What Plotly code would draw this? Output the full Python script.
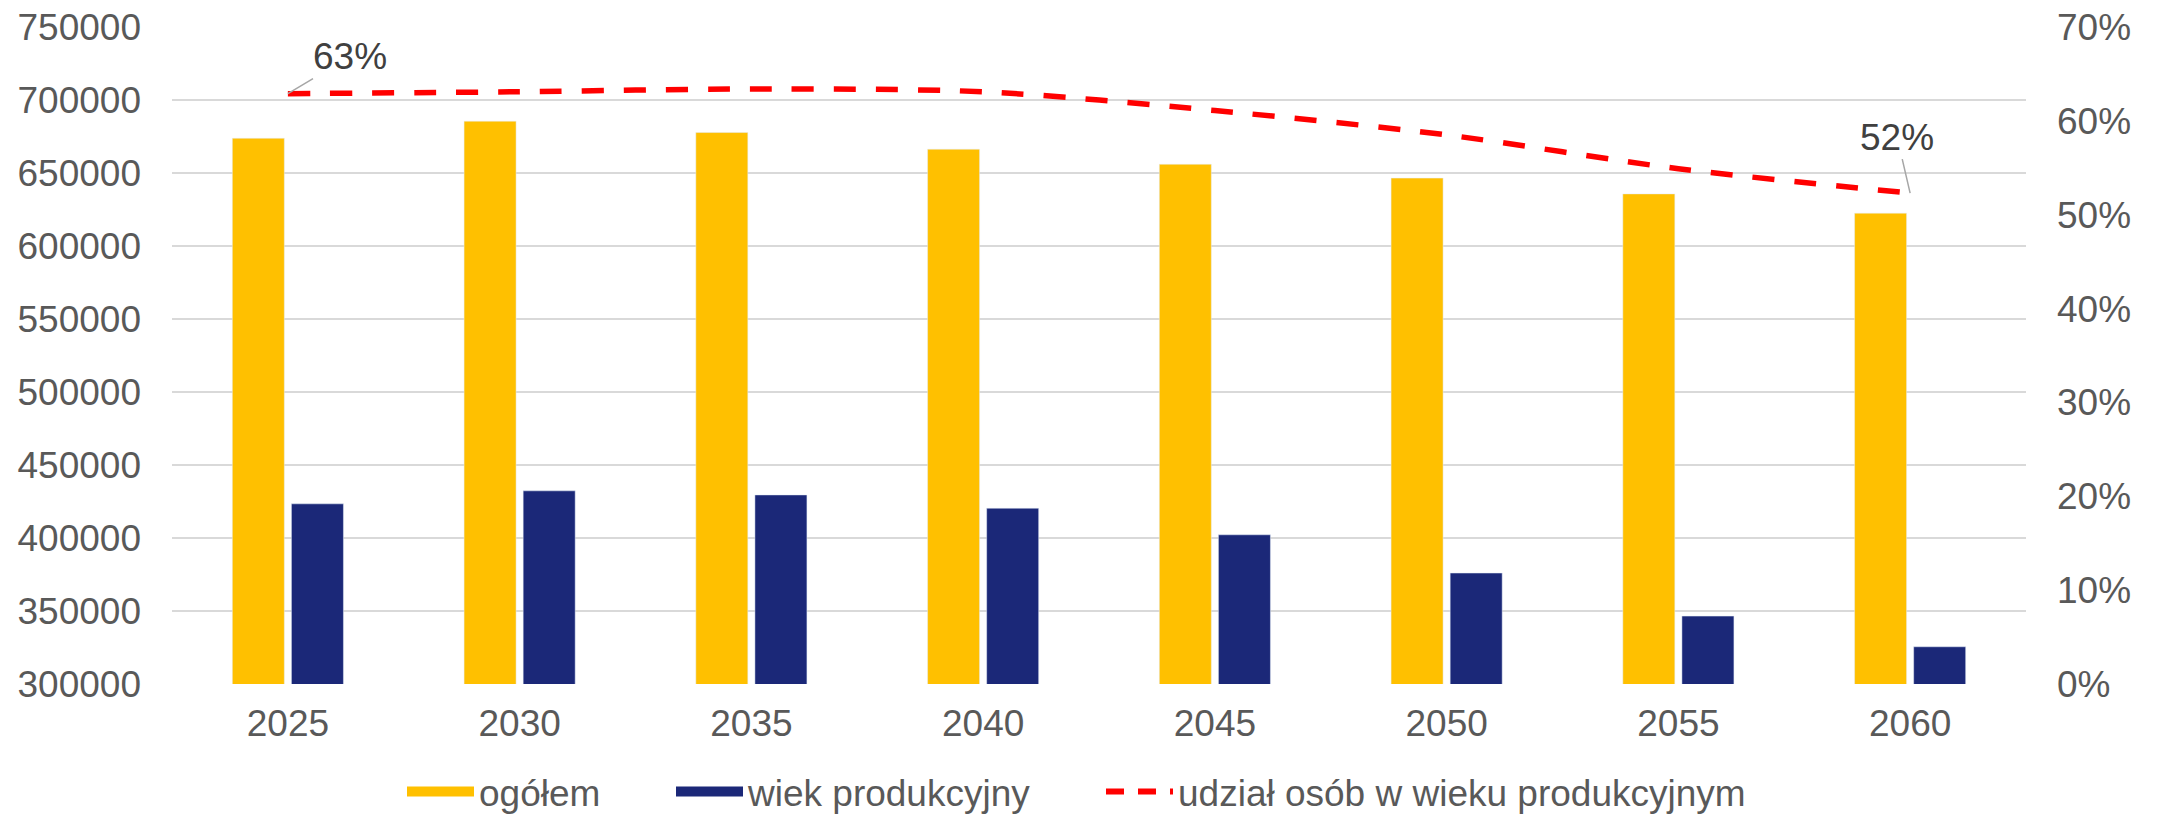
import plotly.graph_objects as go

years = ["2025", "2030", "2035", "2040", "2045", "2050", "2055", "2060"]
ogolem = [673800, 685500, 677700, 666300, 656000, 646500, 635700, 622500]
produkcyjny = [423400, 432300, 429500, 420400, 402200, 376000, 346500, 325500]
udzial = [0.629, 0.631, 0.634, 0.631, 0.611, 0.585, 0.549, 0.523]

names = ["ogółem", "wiek produkcyjny", "udział osób w wieku produkcyjnym"]
c_yellow = "#FFC000"
c_blue = "#1B2878"
c_red = "#FF0000"
txt = "#595959"
FONT = "Liberation Sans, Arial, sans-serif"
W, H = 2157, 816

fig = go.Figure()
fig.add_trace(go.Bar(x=years, y=ogolem, name=names[0], marker_color=c_yellow,
                     showlegend=False, yaxis="y"))
fig.add_trace(go.Bar(x=years, y=produkcyjny, name=names[1], marker_color=c_blue,
                     showlegend=False, yaxis="y"))
fig.add_trace(go.Scatter(x=years, y=udzial, name=names[2], mode="lines",
                         line=dict(color=c_red, width=5.5, dash="22px,20px", shape="spline", smoothing=0.8),
                         yaxis="y2", showlegend=False))
# legend entries (one legend per entry for exact placement)
fig.add_trace(go.Scatter(x=[years[0]], y=[None], mode="lines", name=names[0],
                         line=dict(color=c_yellow, width=19), yaxis="y", legend="legend"))
fig.add_trace(go.Scatter(x=[years[0]], y=[None], mode="lines", name=names[1],
                         line=dict(color=c_blue, width=19), yaxis="y", legend="legend2"))
fig.add_trace(go.Scatter(x=[years[0]], y=[None], mode="lines", name=names[2],
                         line=dict(color=c_red, width=6, dash="18px,14px"), yaxis="y", legend="legend3"))

# data labels for first and last point (x given as category index)
fig.add_annotation(x=0, y=udzial[0], xref="x", yref="y2", text="63%", showarrow=True,
                   arrowhead=0, arrowwidth=1.5, arrowcolor="#A6A6A6", ax=62, ay=-37,
                   font=dict(size=37, color="#404040", family=FONT))
fig.add_annotation(x=len(years) - 1, y=udzial[-1], xref="x", yref="y2", text="52%", showarrow=True,
                   arrowhead=0, arrowwidth=1.5, arrowcolor="#A6A6A6", ax=-13, ay=-56,
                   font=dict(size=37, color="#404040", family=FONT))


def leg(xpx):
    return dict(orientation="h", x=xpx / W, xanchor="left", xref="container",
                y=1 - 792 / H, yanchor="middle", yref="container",
                itemwidth=67, font=dict(size=37, color=txt, family=FONT),
                bgcolor="rgba(0,0,0,0)")


fig.update_layout(
    width=W, height=H,
    margin=dict(l=172, r=131, t=27, b=132, autoexpand=False),
    paper_bgcolor="white", plot_bgcolor="white",
    font=dict(family=FONT, size=37, color=txt),
    barmode="group", bargap=0.49, bargroupgap=0.12,
    xaxis=dict(type="category", categoryarray=years, categoryorder="array",
               range=[-0.5, 7.5], showgrid=False, ticks="", showline=False, automargin=False,
               tickfont=dict(size=37, color=txt), ticklabelstandoff=14),
    yaxis=dict(range=[300000, 750000], dtick=50000, showgrid=True, gridcolor="#D9D9D9",
               gridwidth=2, zeroline=False, ticks="", tickformat="d", automargin=False,
               tickfont=dict(size=37, color=txt), ticklabelstandoff=30),
    yaxis2=dict(range=[0, 0.7], dtick=0.1, tickformat=".0%", overlaying="y", side="right",
                showgrid=False, zeroline=False, ticks="", automargin=False,
                tickfont=dict(size=37, color=txt), ticklabelstandoff=30),
    legend=leg(402),
    legend2=leg(671),
    legend3=leg(1101),
)

fig.write_html("out.html", config={"displayModeBar": False},
               post_script="document.body.style.margin='0';document.body.style.overflow='hidden';")
